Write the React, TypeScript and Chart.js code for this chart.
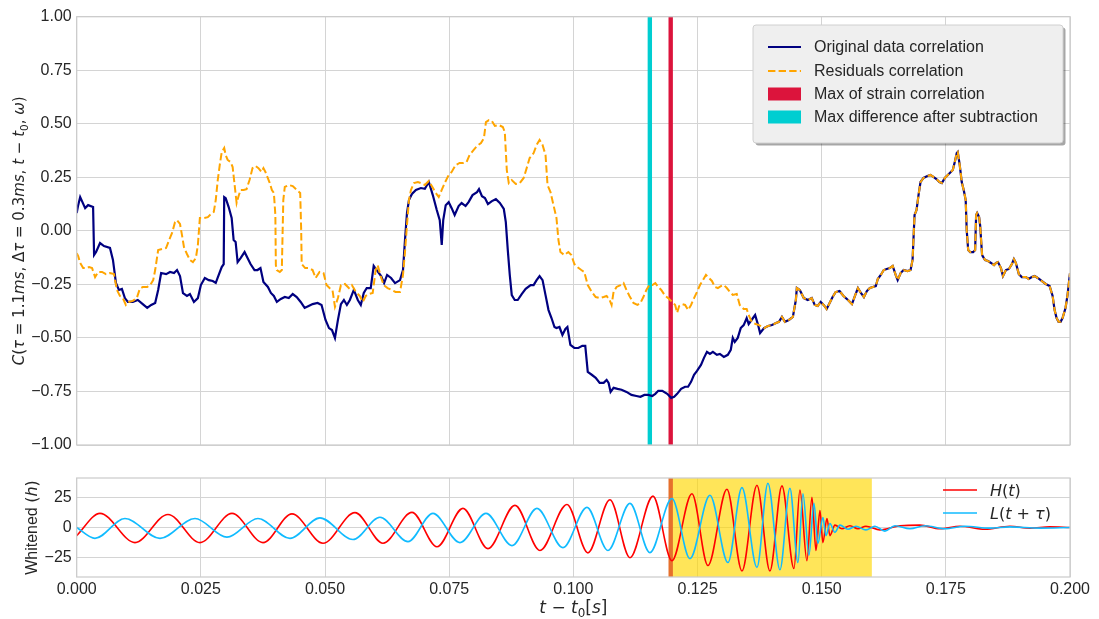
import React, { useEffect, useRef } from 'react';
import { Chart, registerables } from 'chart.js';
Chart.register(...registerables);

// ---------- data (t in seconds, C correlation) ----------
const navyHead: [number, number][] = [
  [0.0000,0.083],[0.0003,0.12],[0.0007,0.158],[0.0017,0.106],[0.0023,0.120],[0.0033,0.111],[0.0035,-0.113],[0.0039,-0.099],[0.0047,-0.057],[0.0055,-0.071],
  [0.0067,-0.080],[0.0073,-0.136],[0.0079,-0.243],[0.0085,-0.276],[0.0091,-0.271],[0.0097,-0.314],[0.0103,-0.332],[0.0113,-0.332],[0.0123,-0.323],[0.0133,-0.342],
  [0.0142,-0.360],[0.0150,-0.346],[0.0158,-0.337],[0.0164,-0.276],[0.0170,-0.197],[0.0180,-0.202],[0.0188,-0.192],[0.0196,-0.197],[0.0202,-0.183],[0.0208,-0.211],
  [0.0214,-0.291],[0.0222,-0.304],[0.0228,-0.295],[0.0236,-0.332],[0.0244,-0.314],[0.0250,-0.253],[0.0258,-0.220],[0.0266,-0.230],[0.0274,-0.234],[0.0280,-0.243],
  [0.0286,-0.206],[0.0292,-0.169],[0.0296,-0.155],[0.0297,0.158],[0.0300,0.153],[0.0306,0.111],[0.0312,0.060],[0.0316,-0.043],[0.0320,-0.052],[0.0324,-0.146],
  [0.0330,-0.127],[0.0338,-0.099],[0.0344,-0.127],[0.0350,-0.155],[0.0358,-0.183],[0.0364,-0.183],[0.0370,-0.174],[0.0376,-0.239],[0.0385,-0.262],[0.0391,-0.290],
  [0.0397,-0.304],[0.0403,-0.332],[0.0411,-0.318],[0.0419,-0.309],[0.0427,-0.314],[0.0435,-0.295],[0.0443,-0.309],[0.0451,-0.332],[0.0459,-0.360],[0.0467,-0.351],
  [0.0475,-0.342],[0.0485,-0.337],[0.0493,-0.346],[0.0501,-0.416],[0.0508,-0.454],[0.0514,-0.463],[0.0520,-0.500],[0.0526,-0.416],[0.0532,-0.342],[0.0538,-0.323],
  [0.0544,-0.346],[0.0550,-0.323],[0.0558,-0.276],[0.0566,-0.323],[0.0572,-0.346],[0.0578,-0.290],[0.0584,-0.267],[0.0592,-0.267],[0.0598,-0.164],[0.0604,-0.183],
  [0.0613,-0.211],[0.0619,-0.244],[0.0625,-0.206],[0.0633,-0.220],[0.0641,-0.244],[0.0651,-0.230],[0.0657,-0.183],[0.0661,-0.043],[0.0665,0.083],[0.0669,0.144],
  [0.0675,0.172],[0.0683,0.191],[0.0693,0.200],[0.0701,0.196],[0.0709,0.228],[0.0717,0.167],[0.0725,0.097],[0.0731,0.050],[0.0735,-0.066],[0.0738,0.050],
  [0.0743,0.120],[0.0749,0.134],[0.0755,0.106],[0.0761,0.074],[0.0769,0.116],[0.0775,0.130],[0.0783,0.116],[0.0789,0.134],[0.0797,0.167],[0.0806,0.181],
  [0.0810,0.195],[0.0816,0.162],[0.0822,0.153],[0.0828,0.125],[0.0836,0.139],[0.0844,0.148],[0.0852,0.130],[0.0860,0.102],[0.0864,0.041],[0.0868,-0.090],
  [0.0872,-0.206],[0.0876,-0.300],[0.0882,-0.323],[0.0888,-0.323],[0.0896,-0.295],[0.0904,-0.271],[0.0914,-0.253],[0.0920,-0.253],[0.0926,-0.230],[0.0932,-0.211],
  [0.0938,-0.230],[0.0944,-0.300],[0.0950,-0.370],[0.0956,-0.407],[0.0962,-0.449],[0.0966,-0.454],[0.0972,-0.449],[0.0978,-0.486],[0.0984,-0.458],[0.0988,-0.449],
  [0.0994,-0.533],[0.1002,-0.547],[0.1010,-0.547],[0.1018,-0.537],[0.1024,-0.537],[0.1029,-0.659],[0.1037,-0.672],[0.1045,-0.686],[0.1053,-0.710],[0.1061,-0.710],
  [0.1067,-0.696],[0.1071,-0.710],[0.1075,-0.752],[0.1081,-0.733],[0.1089,-0.738],[0.1097,-0.742],[0.1107,-0.752],[0.1117,-0.766],[0.1127,-0.771],[0.1135,-0.775],
  [0.1143,-0.766],[0.1151,-0.766],[0.1159,-0.771],[0.1165,-0.761],[0.1171,-0.747],[0.1179,-0.747],[0.1189,-0.761],[0.1197,-0.780],[0.1203,-0.775],[0.1209,-0.761],
  [0.1217,-0.738],[0.1225,-0.728],[0.1231,-0.728],[0.1237,-0.705],[0.1243,-0.672],[0.1249,-0.654],[0.1257,-0.626],[0.1263,-0.593],[0.1269,-0.565],[0.1275,-0.575],
  [0.1281,-0.565],[0.1289,-0.579],[0.1295,-0.575],[0.1303,-0.589],[0.1311,-0.579],[0.1317,-0.556],[0.1321,-0.500],[0.1325,-0.519],[0.1331,-0.500],[0.1337,-0.454],
  [0.1343,-0.440],[0.1349,-0.407],[0.1353,-0.435],[0.1366,-0.393],[0.1372,-0.440],[0.1376,-0.477],
];

const residualHead: [number, number][] = [
  [0.0000,-0.104],[0.0003,-0.118],[0.0007,-0.150],[0.0013,-0.174],[0.0019,-0.174],[0.0025,-0.169],[0.0031,-0.174],[0.0037,-0.216],[0.0043,-0.192],[0.0051,-0.192],
  [0.0059,-0.202],[0.0067,-0.197],[0.0075,-0.202],[0.0081,-0.276],[0.0087,-0.304],[0.0093,-0.314],[0.0099,-0.346],[0.0105,-0.332],[0.0113,-0.327],[0.0121,-0.314],
  [0.0127,-0.271],[0.0133,-0.262],[0.0142,-0.262],[0.0148,-0.253],[0.0154,-0.230],[0.0158,-0.183],[0.0164,-0.090],[0.0172,-0.085],[0.0180,-0.080],[0.0186,-0.043],
  [0.0192,-0.010],[0.0198,0.041],[0.0202,0.050],[0.0208,0.032],[0.0212,-0.020],[0.0216,-0.076],[0.0222,-0.108],[0.0228,-0.136],[0.0234,-0.146],[0.0240,-0.127],
  [0.0244,-0.066],[0.0248,0.060],[0.0256,0.060],[0.0264,0.064],[0.0270,0.078],[0.0276,0.088],[0.0280,0.144],[0.0284,0.237],[0.0288,0.307],[0.0292,0.368],
  [0.0297,0.387],[0.0300,0.354],[0.0304,0.331],[0.0310,0.321],[0.0314,0.298],[0.0318,0.214],[0.0322,0.130],[0.0326,0.163],[0.0330,0.191],[0.0336,0.191],
  [0.0342,0.195],[0.0348,0.237],[0.0354,0.293],[0.0360,0.303],[0.0366,0.293],[0.0372,0.275],[0.0376,0.293],[0.0380,0.275],[0.0388,0.228],[0.0393,0.191],
  [0.0397,0.177],[0.0400,0.074],[0.0401,-0.160],[0.0403,-0.183],[0.0409,-0.192],[0.0413,-0.183],[0.0416,0.144],[0.0419,0.205],[0.0427,0.214],[0.0435,0.209],
  [0.0443,0.191],[0.0450,0.177],[0.0452,0.004],[0.0453,-0.155],[0.0460,-0.174],[0.0467,-0.174],[0.0475,-0.183],[0.0481,-0.220],[0.0489,-0.192],[0.0497,-0.197],
  [0.0503,-0.253],[0.0509,-0.267],[0.0515,-0.276],[0.0520,-0.355],[0.0526,-0.314],[0.0532,-0.253],[0.0540,-0.248],[0.0548,-0.267],[0.0554,-0.253],[0.0562,-0.285],
  [0.0570,-0.304],[0.0576,-0.332],[0.0582,-0.304],[0.0588,-0.295],[0.0596,-0.290],[0.0602,-0.183],[0.0606,-0.160],[0.0612,-0.211],[0.0618,-0.253],[0.0626,-0.267],
  [0.0634,-0.276],[0.0642,-0.285],[0.0651,-0.285],[0.0657,-0.206],[0.0661,-0.099],[0.0665,0.027],[0.0669,0.144],[0.0673,0.191],[0.0679,0.223],[0.0687,0.228],
  [0.0693,0.223],[0.0701,0.214],[0.0709,0.233],[0.0715,0.209],[0.0723,0.177],[0.0729,0.158],[0.0735,0.191],[0.0741,0.223],[0.0749,0.261],[0.0755,0.275],
  [0.0763,0.307],[0.0771,0.317],[0.0779,0.317],[0.0785,0.321],[0.0791,0.354],[0.0799,0.377],[0.0806,0.396],[0.0814,0.410],[0.0820,0.433],[0.0824,0.508],
  [0.0830,0.517],[0.0836,0.513],[0.0842,0.490],[0.0850,0.494],[0.0858,0.485],[0.0862,0.461],[0.0866,0.284],[0.0870,0.223],[0.0876,0.237],[0.0884,0.219],
  [0.0892,0.223],[0.0900,0.247],[0.0906,0.293],[0.0912,0.340],[0.0920,0.363],[0.0926,0.401],[0.0932,0.424],[0.0938,0.401],[0.0944,0.354],[0.0948,0.214],
  [0.0954,0.181],[0.0960,0.120],[0.0966,0.060],[0.0970,-0.043],[0.0974,-0.099],[0.0982,-0.113],[0.0990,-0.099],[0.0996,-0.113],[0.1002,-0.155],[0.1008,-0.169],
  [0.1016,-0.183],[0.1022,-0.192],[0.1029,-0.253],[0.1037,-0.285],[0.1045,-0.309],[0.1053,-0.314],[0.1061,-0.309],[0.1067,-0.304],[0.1073,-0.323],[0.1077,-0.346],
  [0.1081,-0.285],[0.1087,-0.262],[0.1095,-0.253],[0.1101,-0.244],[0.1107,-0.276],[0.1113,-0.304],[0.1121,-0.337],[0.1129,-0.346],[0.1135,-0.337],[0.1141,-0.309],
  [0.1147,-0.276],[0.1153,-0.253],[0.1159,-0.253],[0.1165,-0.244],[0.1171,-0.262],[0.1177,-0.276],[0.1185,-0.304],[0.1191,-0.314],[0.1199,-0.332],[0.1205,-0.346],
  [0.1209,-0.383],[0.1213,-0.351],[0.1219,-0.342],[0.1225,-0.346],[0.1231,-0.370],[0.1237,-0.346],[0.1243,-0.314],[0.1249,-0.285],[0.1255,-0.253],[0.1261,-0.230],
  [0.1267,-0.206],[0.1273,-0.220],[0.1279,-0.234],[0.1285,-0.262],[0.1291,-0.267],[0.1297,-0.258],[0.1303,-0.253],[0.1309,-0.267],[0.1315,-0.285],[0.1321,-0.299],
  [0.1329,-0.295],[0.1335,-0.346],[0.1343,-0.365],[0.1349,-0.365],[0.1353,-0.393],[0.1359,-0.425],[0.1367,-0.435],[0.1374,-0.440],
];

// where both correlations coincide
const sharedTail: [number, number][] = [
  [0.1384,-0.454],[0.1392,-0.444],[0.1400,-0.440],[0.1408,-0.430],[0.1414,-0.425],[0.1420,-0.402],[0.1426,-0.425],[0.1434,-0.416],[0.1442,-0.402],[0.1448,-0.323],
  [0.1450,-0.267],[0.1456,-0.276],[0.1464,-0.314],[0.1472,-0.323],[0.1480,-0.314],[0.1486,-0.346],[0.1492,-0.351],[0.1498,-0.332],[0.1504,-0.346],[0.1510,-0.365],
  [0.1516,-0.337],[0.1522,-0.309],[0.1528,-0.286],[0.1536,-0.281],[0.1544,-0.304],[0.1553,-0.323],[0.1561,-0.342],[0.1567,-0.304],[0.1573,-0.267],[0.1579,-0.290],
  [0.1585,-0.309],[0.1591,-0.281],[0.1597,-0.267],[0.1603,-0.262],[0.1609,-0.258],[0.1613,-0.225],[0.1619,-0.206],[0.1625,-0.183],[0.1631,-0.178],[0.1637,-0.174],
  [0.1643,-0.164],[0.1649,-0.206],[0.1653,-0.230],[0.1659,-0.197],[0.1665,-0.183],[0.1673,-0.188],[0.1679,-0.183],[0.1683,-0.136],[0.1687,0.074],[0.1691,0.097],
  [0.1695,0.167],[0.1699,0.228],[0.1705,0.247],[0.1713,0.256],[0.1719,0.261],[0.1725,0.252],[0.1731,0.242],[0.1737,0.228],[0.1742,0.223],[0.1748,0.247],
  [0.1754,0.261],[0.1760,0.275],[0.1764,0.284],[0.1768,0.321],[0.1772,0.363],[0.1774,0.368],[0.1778,0.307],[0.1782,0.228],[0.1786,0.191],[0.1790,0.144],
  [0.1792,0.004],[0.1795,-0.090],[0.1799,-0.099],[0.1805,-0.099],[0.1809,-0.090],[0.1811,0.074],[0.1813,0.083],[0.1817,0.064],[0.1819,0.027],[0.1823,-0.113],
  [0.1829,-0.136],[0.1835,-0.141],[0.1841,-0.150],[0.1847,-0.160],[0.1851,-0.150],[0.1855,-0.146],[0.1861,-0.174],[0.1865,-0.211],[0.1871,-0.183],[0.1877,-0.178],
  [0.1883,-0.155],[0.1887,-0.132],[0.1891,-0.150],[0.1897,-0.202],[0.1903,-0.216],[0.1911,-0.216],[0.1917,-0.225],[0.1923,-0.216],[0.1929,-0.211],[0.1935,-0.220],
  [0.1943,-0.234],[0.1951,-0.248],[0.1959,-0.258],[0.1965,-0.304],[0.1969,-0.370],[0.1973,-0.407],[0.1977,-0.425],[0.1981,-0.425],[0.1985,-0.407],[0.1991,-0.360],
  [0.1995,-0.300],[0.2000,-0.197],
];

// whitened strain: extrema
const hanfordPairs: [number, number][] = [
  [0,-6.7],[0.00469,11.7],[0.01174,-12.5],[0.01838,10.8],[0.02482,-12.5],[0.03127,11.7],[0.03751,-12.5],[0.04335,11.3],[0.04959,-13],[0.05603,12.3],
  [0.06167,-13],[0.06751,12.5],[0.07254,-16],[0.07777,15.8],[0.08281,-17.5],[0.08824,18.3],[0.09328,-19],[0.09871,19],[0.10294,-21],[0.10737,23],
  [0.11140,-25],[0.11603,26],[0.11985,-27.5],[0.12388,28],[0.12710,-31.5],[0.13093,31.7],[0.13395,-36],[0.13697,35],[0.13958,-36],[0.14200,34.5],
  [0.14442,-34],[0.14562,31],[0.14703,-27.5],[0.14804,25],[0.14885,-19],[0.14965,14],[0.15025,-12.5],[0.15106,7.5],[0.15166,-6.7],[0.15267,2],
  [0.15408,-1],[0.15569,1.5],[0.15730,-1],[0.15891,1],[0.16173,-2],[0.16576,1.5],[0.16978,2],[0.17381,-1],[0.17784,1],[0.18287,-1.5],
  [0.18790,1],[0.19193,-0.5],[0.19595,0.5],[0.2,0],
];
const livingstonPairs: [number, number][] = [
  [0,0],[0.00368,-9],[0.00972,7.5],[0.01677,-9],[0.02382,7.5],[0.03026,-8],[0.03650,7.5],[0.04294,-9],[0.04898,8],[0.05563,-10],
  [0.06106,8.5],[0.06670,-11.7],[0.07173,11.7],[0.07717,-12.5],[0.08241,11.7],[0.08764,-15],[0.09267,15.8],[0.09791,-16.7],[0.10274,16.7],[0.10697,-19],
  [0.11140,20],[0.11542,-20.8],[0.11985,24],[0.12348,-25.8],[0.12750,26.7],[0.13113,-29],[0.13395,33],[0.13697,-33],[0.13918,36.7],[0.14160,-35],
  [0.14361,32.5],[0.14522,-29],[0.14623,28],[0.14744,-23],[0.14844,20],[0.14925,-13.3],[0.15025,8.3],[0.15086,-6.7],[0.15166,3.3],[0.15267,-4],
  [0.15368,2],[0.15529,-1.5],[0.15690,1],[0.15891,-2],[0.16072,1],[0.16273,-3],[0.16475,1.5],[0.16777,-1],[0.17079,1.5],[0.17482,-1],
  [0.17885,1],[0.18388,-0.5],[0.18790,0.5],[0.19394,-0.5],[0.2,0],
];

const strainMaxT = 0.1196;
const diffMaxT = 0.1154;
const mergerEndT = 0.1601;

const legendTop = ['Original data correlation', 'Residuals correlation', 'Max of strain correlation', 'Max difference after subtraction'];

// ---------- styling ----------
const FONT = '"Liberation Sans", Arial, sans-serif';
const MATH = '"DejaVu Sans", sans-serif';
const TEXT = '#262626';
const GRID = '#d4d4d4';
const FRAME = '#cccccc';
const NAVY = '#000080';
const ORANGE = '#FFA500';
const CRIMSON = '#DC143C';
const TURQ = '#00CED1';
const RED = '#FF0000';
const SKY = '#10BBFF';
const BAR_HALF = 0.00044;

type Run = { t: string; it?: boolean; sub?: boolean; fam?: string };

function runFont(r: Run, size: number) {
  const s = r.sub ? size * 0.7 : size;
  return `${r.it ? 'italic ' : ''}${s}px ${r.fam || MATH}`;
}
function drawRuns(ctx: CanvasRenderingContext2D, runs: Run[], x: number, yMid: number, size: number, align: 'left' | 'center') {
  ctx.save();
  ctx.textBaseline = 'alphabetic';
  ctx.textAlign = 'left';
  ctx.fillStyle = TEXT;
  let w = 0;
  for (const r of runs) { ctx.font = runFont(r, size); w += ctx.measureText(r.t).width; }
  let cx = align === 'center' ? x - w / 2 : x;
  const base = yMid + size * 0.36;
  for (const r of runs) {
    ctx.font = runFont(r, size);
    ctx.fillText(r.t, cx, base + (r.sub ? size * 0.22 : 0));
    cx += ctx.measureText(r.t).width;
  }
  ctx.restore();
}

function roundRect(ctx: CanvasRenderingContext2D, x: number, y: number, w: number, h: number, r: number) {
  ctx.beginPath();
  ctx.moveTo(x + r, y);
  ctx.lineTo(x + w - r, y);
  ctx.quadraticCurveTo(x + w, y, x + w, y + r);
  ctx.lineTo(x + w, y + h - r);
  ctx.quadraticCurveTo(x + w, y + h, x + w - r, y + h);
  ctx.lineTo(x + r, y + h);
  ctx.quadraticCurveTo(x, y + h, x, y + h - r);
  ctx.lineTo(x, y + r);
  ctx.quadraticCurveTo(x, y, x + r, y);
  ctx.closePath();
}

function drawFrame(chart: any) {
  const { ctx, chartArea: a } = chart;
  ctx.save();
  ctx.strokeStyle = FRAME;
  ctx.lineWidth = 1.25;
  ctx.strokeRect(a.left, a.top, a.right - a.left, a.bottom - a.top);
  ctx.restore();
}

const topOverlay = {
  id: 'topOverlay',
  beforeDatasetsDraw(chart: any) {
    const { ctx, chartArea: a, scales } = chart;
    const x = scales.x;
    ctx.save();
    const bar = (t: number, color: string) => {
      const x0 = x.getPixelForValue(t - BAR_HALF);
      const x1 = x.getPixelForValue(t + BAR_HALF);
      ctx.fillStyle = color;
      ctx.fillRect(x0, a.top, x1 - x0, a.bottom - a.top);
    };
    bar(diffMaxT, TURQ);
    bar(strainMaxT, CRIMSON);
    ctx.restore();
  },
  afterDraw(chart: any) {
    const { ctx, chartArea: a } = chart;
    drawFrame(chart);
    // legend
    const bx = a.right - 317, by = a.top + 8.3, bw = 310, bh = 118;
    ctx.save();
    roundRect(ctx, bx + 2.5, by + 2.5, bw, bh, 3);
    ctx.fillStyle = 'rgba(0,0,0,0.35)';
    ctx.fill();
    roundRect(ctx, bx, by, bw, bh, 3);
    ctx.fillStyle = '#efefef';
    ctx.fill();
    ctx.strokeStyle = '#d0d0d0';
    ctx.lineWidth = 1;
    ctx.stroke();
    const hx0 = bx + 15, hx1 = bx + 48, tx = bx + 61;
    const rows = [by + 22, by + 46, by + 69, by + 92];
    ctx.lineWidth = 2;
    ctx.strokeStyle = NAVY;
    ctx.beginPath(); ctx.moveTo(hx0, rows[0]); ctx.lineTo(hx1, rows[0]); ctx.stroke();
    ctx.strokeStyle = ORANGE;
    ctx.setLineDash([7.4, 3.2]);
    ctx.beginPath(); ctx.moveTo(hx0, rows[1]); ctx.lineTo(hx1, rows[1]); ctx.stroke();
    ctx.setLineDash([]);
    ctx.fillStyle = CRIMSON; ctx.fillRect(hx0, rows[2] - 6.5, hx1 - hx0, 13);
    ctx.fillStyle = TURQ; ctx.fillRect(hx0, rows[3] - 6.5, hx1 - hx0, 13);
    ctx.fillStyle = TEXT;
    ctx.font = `16px ${FONT}`;
    ctx.textBaseline = 'middle';
    ctx.textAlign = 'left';
    legendTop.forEach((s, i) => ctx.fillText(s, tx, rows[i] + 0.5));
    ctx.restore();
    // y title
    ctx.save();
    ctx.translate(19, (a.top + a.bottom) / 2);
    ctx.rotate(-Math.PI / 2);
    drawRuns(ctx, [
      { t: 'C', it: true }, { t: '(' }, { t: 'τ', it: true }, { t: ' = ' }, { t: '1.1' }, { t: 'ms', it: true }, { t: ', ' },
      { t: 'Δ' }, { t: 'τ', it: true }, { t: ' = ' }, { t: '0.3' }, { t: 'ms', it: true }, { t: ', ' },
      { t: 't', it: true }, { t: ' − ' }, { t: 't', it: true }, { t: '0', sub: true }, { t: ', ' }, { t: 'ω', it: true }, { t: ')' },
    ], 0, 0, 15, 'center');
    ctx.restore();
  },
};

const bottomOverlay = {
  id: 'bottomOverlay',
  beforeDatasetsDraw(chart: any) {
    const { ctx, chartArea: a, scales } = chart;
    const x = scales.x;
    ctx.save();
    const x0 = x.getPixelForValue(strainMaxT);
    const x1 = x.getPixelForValue(mergerEndT);
    ctx.fillStyle = 'rgba(255,215,0,0.65)';
    ctx.fillRect(x0, a.top, x1 - x0, a.bottom - a.top);
    const l0 = x.getPixelForValue(strainMaxT - BAR_HALF);
    const l1 = x.getPixelForValue(strainMaxT + BAR_HALF);
    ctx.fillStyle = '#E6702C';
    ctx.fillRect(l0, a.top, l1 - l0, a.bottom - a.top);
    ctx.restore();
  },
  afterDraw(chart: any) {
    const { ctx, chartArea: a } = chart;
    drawFrame(chart);
    // legend
    ctx.save();
    const lx0 = a.right - 127, lx1 = a.right - 93, tx = a.right - 80;
    const r1 = a.top + 12, r2 = a.top + 35;
    ctx.lineWidth = 1.6;
    ctx.strokeStyle = RED;
    ctx.beginPath(); ctx.moveTo(lx0, r1); ctx.lineTo(lx1, r1); ctx.stroke();
    ctx.strokeStyle = SKY;
    ctx.beginPath(); ctx.moveTo(lx0, r2); ctx.lineTo(lx1, r2); ctx.stroke();
    ctx.restore();
    drawRuns(ctx, [{ t: 'H', it: true }, { t: '(' }, { t: 't', it: true }, { t: ')' }], tx, r1, 16, 'left');
    drawRuns(ctx, [{ t: 'L', it: true }, { t: '(' }, { t: 't', it: true }, { t: ' + ' }, { t: 'τ', it: true }, { t: ')' }], tx, r2, 16, 'left');
    // x title
    drawRuns(ctx, [{ t: 't', it: true }, { t: ' − ' }, { t: 't', it: true }, { t: '0', sub: true }, { t: '[' }, { t: 's', it: true }, { t: ']' }],
      (a.left + a.right) / 2, a.bottom + 30, 17, 'center');
    // y title
    ctx.save();
    ctx.translate(31, (a.top + a.bottom) / 2);
    ctx.rotate(-Math.PI / 2);
    drawRuns(ctx, [{ t: 'Whitened ', fam: FONT }, { t: '(' }, { t: 'h', it: true }, { t: ')' }], 0, 0, 16, 'center');
    ctx.restore();
  },
};

const toPts = (p: [number, number][]) => p.map(([x, y]) => ({ x, y }));
const minusFmt = (v: number, d: number) => (v < 0 ? '−' : '') + Math.abs(v).toFixed(d);

export default function App() {
  const topRef = useRef<HTMLCanvasElement>(null);
  const botRef = useRef<HTMLCanvasElement>(null);

  useEffect(() => {
    const tickFont = { family: FONT, size: 16 };
    const top = new Chart(topRef.current!, {
      type: 'line',
      data: {
        datasets: [
          { label: 'Residuals correlation', data: toPts([...residualHead, ...sharedTail]), borderColor: ORANGE, borderWidth: 2, borderDash: [7.4, 3.2], pointRadius: 0, tension: 0, order: 0 },
          { label: 'Original data correlation', data: toPts([...navyHead, ...sharedTail]), borderColor: NAVY, borderWidth: 2.2, pointRadius: 0, tension: 0, order: 1 },
        ],
      },
      options: {
        animation: false,
        responsive: false,
        layout: { padding: { left: 0, right: 29, top: 16.7, bottom: 15 } },
        scales: {
          x: {
            type: 'linear', min: 0, max: 0.2,
            ticks: { display: false, stepSize: 0.025 },
            grid: { color: GRID, lineWidth: 1, drawTicks: false },
            border: { display: false },
            afterFit: (s: any) => { s.height = 0; },
          },
          y: {
            min: -1, max: 1,
            ticks: { stepSize: 0.25, padding: 5, font: tickFont, color: TEXT, callback: (v: any) => minusFmt(Number(v), 2) },
            grid: { color: GRID, lineWidth: 1, drawTicks: false },
            border: { display: false },
            afterFit: (s: any) => { s.width = 76.7; },
          },
        },
        plugins: { legend: { display: false }, tooltip: { enabled: false } },
      },
      plugins: [topOverlay],
    } as any);

    const bot = new Chart(botRef.current!, {
      type: 'line',
      data: {
        datasets: [
          { label: 'L(t+τ)', data: toPts(livingstonPairs), borderColor: SKY, borderWidth: 1.6, pointRadius: 0, cubicInterpolationMode: 'monotone', order: 0 },
          { label: 'H(t)', data: toPts(hanfordPairs), borderColor: RED, borderWidth: 1.6, pointRadius: 0, cubicInterpolationMode: 'monotone', order: 1 },
        ],
      },
      options: {
        animation: false,
        responsive: false,
        layout: { padding: { left: 0, right: 29, top: 18, bottom: 0 } },
        scales: {
          x: {
            type: 'linear', min: 0, max: 0.2,
            ticks: { stepSize: 0.025, padding: 2.5, font: tickFont, color: TEXT, maxRotation: 0, callback: (v: any) => Number(v).toFixed(3) },
            grid: { color: GRID, lineWidth: 1, drawTicks: false },
            border: { display: false },
            afterFit: (s: any) => { s.height = 42; },
          },
          y: {
            min: -41, max: 41,
            ticks: { stepSize: 25, includeBounds: false, padding: 5, font: tickFont, color: TEXT, callback: (v: any) => minusFmt(Number(v), 0) },
            grid: { color: GRID, lineWidth: 1, drawTicks: false },
            border: { display: false },
            afterFit: (s: any) => { s.width = 76.7; },
          },
        },
        plugins: { legend: { display: false }, tooltip: { enabled: false } },
      },
      plugins: [bottomOverlay],
    } as any);

    return () => { top.destroy(); bot.destroy(); };
  }, []);

  return (
    <div style={{ position: 'absolute', left: 0, top: 0, width: 1099, height: 619, background: '#fff' }}>
      <canvas ref={topRef} width={1099} height={460} style={{ position: 'absolute', left: 0, top: 0, width: 1099, height: 460, display: 'block' }} />
      <canvas ref={botRef} width={1099} height={159} style={{ position: 'absolute', left: 0, top: 460, width: 1099, height: 159, display: 'block' }} />
    </div>
  );
}
